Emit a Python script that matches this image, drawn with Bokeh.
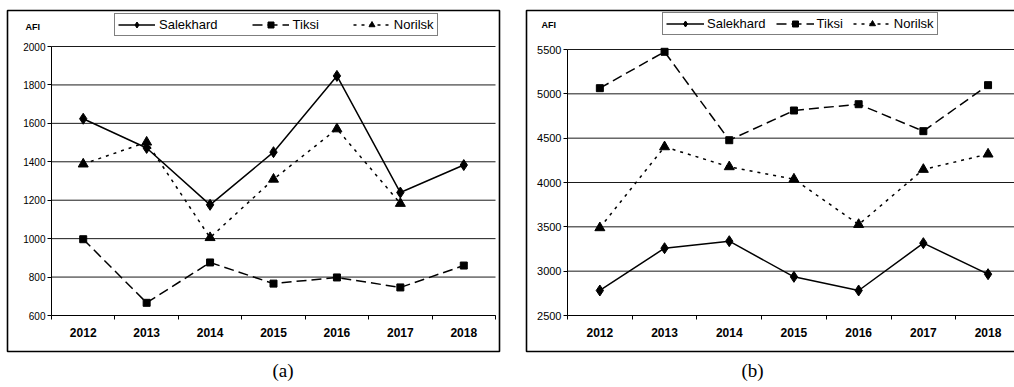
from bokeh.plotting import figure
from bokeh.models import (Range1d, FixedTicker, Legend, LegendItem, Label, LinearAxis,
                          BoxAnnotation)
from bokeh.layouts import row
from bokeh.embed import file_html
from bokeh.resources import INLINE

# ---------------- data ----------------
years = [2012, 2013, 2014, 2015, 2016, 2017, 2018]
series_names = ["Salekhard", "Tiksi", "Norilsk"]

a_salekhard = [1624, 1472, 1176, 1450, 1847, 1240, 1383]
a_tiksi = [997, 666, 876, 766, 798, 746, 860]
a_norilsk = [1388, 1502, 1005, 1309, 1571, 1183, float("nan")]

b_salekhard = [2782, 3259, 3338, 2936, 2782, 3316, 2966]
b_tiksi = [5064, 5474, 4477, 4812, 4883, 4579, 5098]
b_norilsk = [3489, 4402, 4177, 4038, 3526, 4147, 4320]

a_y_ticks = [600, 800, 1000, 1200, 1400, 1600, 1800, 2000]
b_y_ticks = [2500, 3000, 3500, 4000, 4500, 5000, 5500]

panel_labels = ["(a)", "(b)"]

FONT = "Liberation Sans"
H = 386  # canvas height (page pixels)


def make_panel(sal, tik, nor, y_ticks, caption, ox, W, box, x0_px, step_px, ytop_px, ybot_px,
               leg_left, leg_bottom, leg_glyph_w, leg_standoff, leg_spacing, afi_pos,
               ytick_size, caption_pos):
    """All *_px / positions are page pixels; ox = page x of the canvas' left edge."""
    n = len(years)
    xs = [i + 0.5 for i in range(n)]
    y0, y1 = y_ticks[0], y_ticks[-1]
    cx0 = x0_px - ox
    x_start = -cx0 / step_px
    x_end = (W - cx0) / step_px
    upp = (y1 - y0) / (ybot_px - ytop_px)
    y_end = y1 + ytop_px * upp
    y_start = y0 - (H - ybot_px) * upp

    p = figure(width=W, height=H, output_backend="svg", toolbar_location=None,
               x_range=Range1d(x_start, x_end), y_range=Range1d(y_start, y_end),
               min_border=0, min_border_left=0, min_border_right=0,
               min_border_top=0, min_border_bottom=0,
               x_axis_type=None, y_axis_type=None,
               background_fill_color="white", border_fill_color="white")
    p.title = None
    p.outline_line_color = None
    p.xgrid.visible = False
    p.ygrid.visible = False

    # outer box of the panel (screen units: x from left, y from bottom)
    bl, bt, br, bb = box
    p.add_layout(BoxAnnotation(left=bl - ox, right=br - ox,
                               top=H - bt, bottom=H - bb,
                               left_units="screen", right_units="screen",
                               top_units="screen", bottom_units="screen",
                               fill_color=None, fill_alpha=0, line_color="black",
                               line_alpha=1, line_width=1.6, level="underlay"))

    # grid lines at the y ticks, spanning the category area
    p.segment(x0=[0] * len(y_ticks), x1=[n] * len(y_ticks), y0=y_ticks, y1=y_ticks,
              line_color="#1a1a1a", line_width=1)

    xaxis = LinearAxis(fixed_location=y0, bounds=(0, n),
                       ticker=FixedTicker(ticks=xs, minor_ticks=list(range(n + 1))))
    xaxis.major_label_overrides = {x: str(y) for x, y in zip(xs, years)}
    xaxis.major_tick_line_color = None
    xaxis.major_tick_out = 0
    xaxis.major_tick_in = 0
    xaxis.minor_tick_line_color = "black"
    xaxis.minor_tick_out = 4
    xaxis.minor_tick_in = 0
    xaxis.axis_line_color = "black"
    xaxis.major_label_text_font = FONT
    xaxis.major_label_text_font_size = "12px"
    xaxis.major_label_text_font_style = "bold"
    xaxis.major_label_text_color = "black"
    xaxis.major_label_standoff = 8
    p.add_layout(xaxis, "below")

    yaxis = LinearAxis(fixed_location=0, bounds=(y0, y1),
                       ticker=FixedTicker(ticks=y_ticks, minor_ticks=[]))
    yaxis.major_tick_line_color = "black"
    yaxis.major_tick_out = 4
    yaxis.major_tick_in = 0
    yaxis.minor_tick_line_color = None
    yaxis.axis_line_color = "black"
    yaxis.major_label_text_font = FONT
    yaxis.major_label_text_font_size = ytick_size
    yaxis.major_label_text_color = "black"
    yaxis.major_label_standoff = 2
    p.add_layout(yaxis, "left")

    l1 = p.line(xs, sal, line_color="black", line_width=1.5)
    m1 = p.scatter(xs, sal, marker="diamond", size=11, color="black")
    l2 = p.line(xs, tik, line_color="black", line_width=1.5, line_dash="10 5")
    m2 = p.scatter(xs, tik, marker="square", size=7, color="black")
    l3 = p.line(xs, nor, line_color="black", line_width=1.5, line_dash="3 5")
    m3 = p.scatter(xs, nor, marker="triangle", size=10, color="black")

    legend = Legend(items=[LegendItem(label=series_names[0], renderers=[l1, m1]),
                           LegendItem(label=series_names[1], renderers=[l2, m2]),
                           LegendItem(label=series_names[2], renderers=[l3, m3])],
                    orientation="horizontal",
                    location=(leg_left - ox, H - leg_bottom),
                    label_text_font=FONT, label_text_font_size="13px",
                    label_text_color="black",
                    glyph_width=leg_glyph_w, glyph_height=15, label_height=15,
                    label_standoff=leg_standoff, spacing=leg_spacing, padding=3, margin=0,
                    border_line_color="black", border_line_width=1,
                    background_fill_color="white", background_fill_alpha=1)
    p.add_layout(legend, "center")

    p.add_layout(Label(x=afi_pos[0] - ox, y=H - afi_pos[1], x_units="screen",
                       y_units="screen", text="AFI", text_font=FONT,
                       text_font_size="9px", text_font_style="bold", text_color="black",
                       text_baseline="middle"))

    p.add_layout(Label(x=caption_pos[0] - ox, y=H - caption_pos[1], x_units="screen",
                       y_units="screen", text=caption, text_font="Liberation Serif",
                       text_font_size="19px", text_color="black",
                       text_baseline="middle"))
    return p


pa = make_panel(a_salekhard, a_tiksi, a_norilsk, a_y_ticks, panel_labels[0],
                ox=0, W=517, box=(7, 10, 499, 351),
                x0_px=51, step_px=444 / 7, ytop_px=46, ybot_px=315,
                leg_left=114, leg_bottom=36, leg_glyph_w=37, leg_standoff=4,
                leg_spacing=34, afi_pos=(25, 26), ytick_size="10px",
                caption_pos=(272, 370))
pb = make_panel(b_salekhard, b_tiksi, b_norilsk, b_y_ticks, panel_labels[1],
                ox=517, W=497, box=(526, 10, 1030, 351),
                x0_px=567, step_px=64.7, ytop_px=49, ybot_px=315,
                leg_left=662, leg_bottom=35, leg_glyph_w=38, leg_standoff=3,
                leg_spacing=10, afi_pos=(541, 24), ytick_size="11px",
                caption_pos=(741, 370))

layout = row(pa, pb)

open("out.html", "w").write(file_html(layout, INLINE))
